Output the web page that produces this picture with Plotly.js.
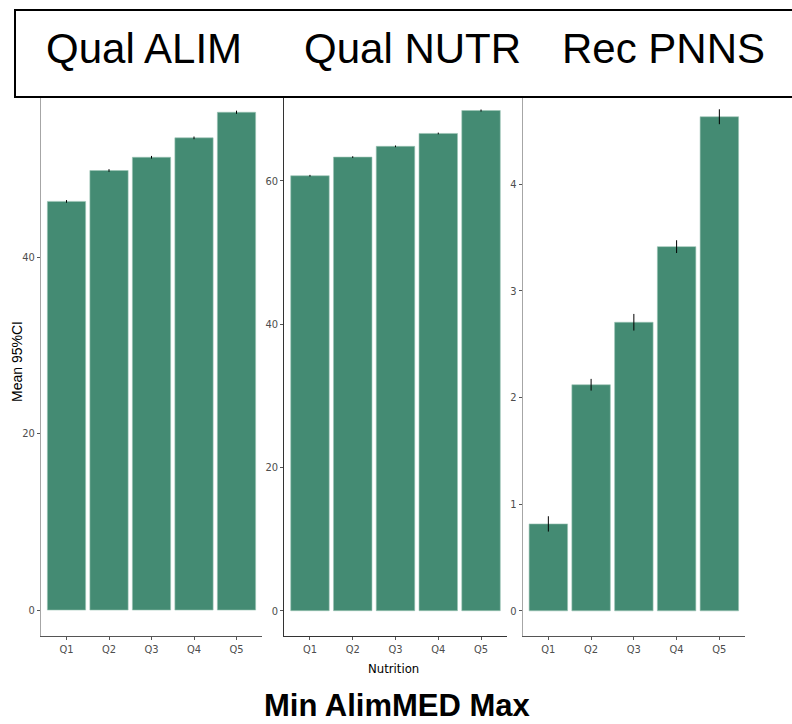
<!DOCTYPE html>
<html>
<head>
<meta charset="utf-8">
<script src="https://cdn.plot.ly/plotly-3.0.1.min.js"></script>
<style>html,body{margin:0;padding:0;background:#fff;}#chart{width:792px;height:724px;}</style>
</head>
<body>
<div id="chart"></div>
<script>
// ---- data ----
const categories = ["Q1", "Q2", "Q3", "Q4", "Q5"];
const panelTitles = ["Qual ALIM", "Qual NUTR", "Rec PNNS"];
const qualAlimMean = [46.3, 49.8, 51.3, 53.5, 56.4];
const qualAlimErr  = [0.15, 0.15, 0.15, 0.15, 0.18];
const qualNutrMean = [60.7, 63.3, 64.8, 66.6, 69.8];
const qualNutrErr  = [0.12, 0.12, 0.12, 0.12, 0.14];
const recPnnsMean  = [0.815, 2.12, 2.706, 3.415, 4.633];
const recPnnsErr   = [0.072, 0.055, 0.078, 0.06, 0.07];
const yTicks1 = [0, 20, 40];
const yTicks2 = [0, 20, 40, 60];
const yTicks3 = [0, 1, 2, 3, 4];
const yTitle = "Mean 95%CI";
const xTitle = "Nutrition";
const bottomTitle = "Min AlimMED Max";

// ---- layout helpers ----
const W = 792, H = 724;
const px = v => v / W;
const py = v => (H - v) / H;
const barColor = "#448B73";
const narrow = "'Liberation Sans Narrow', 'Arial Narrow', 'DejaVu Sans Condensed', 'Liberation Sans', Arial, sans-serif";
const tickFont = {family: narrow, size: 11, color: "#4d4d4d"};

function barTrace(vals, errs, xa, ya) {
  return {
    type: "bar", x: categories, y: vals, xaxis: xa, yaxis: ya,
    marker: {color: barColor, line: {color: "#9cc4b5", width: 0.6}},
    error_y: {type: "data", array: errs, visible: true, color: "#000", thickness: 1, width: 0},
    hoverinfo: "x+y", showlegend: false
  };
}

const data = [
  barTrace(qualAlimMean, qualAlimErr, "x", "y"),
  barTrace(qualNutrMean, qualNutrErr, "x2", "y2"),
  barTrace(recPnnsMean, recPnnsErr, "x3", "y3")
];

function xAx(d0, d1, anchor, lc) {
  return {domain: [px(d0), px(d1)], anchor: anchor, type: "category", range: [-0.6, 4.6],
    showline: true, linecolor: lc, linewidth: 1, ticks: "outside", ticklen: 3, tickcolor: "#555",
    tickfont: tickFont, showgrid: false, zeroline: false, fixedrange: true};
}
function yAx(range, tickvals, anchor, lc) {
  return {domain: [py(636), py(84)], anchor: anchor, range: range, tickvals: tickvals,
    showline: true, linecolor: lc, linewidth: 1, ticks: "outside", ticklen: 3, tickcolor: "#555",
    tickfont: tickFont, showgrid: false, zeroline: false, fixedrange: true};
}

const layout = {
  width: W, height: H,
  margin: {l: 0, r: 0, t: 0, b: 0},
  paper_bgcolor: "#fff", plot_bgcolor: "rgba(0,0,0,0)",
  bargap: 0.1,
  xaxis:  xAx(41, 262, "y", "#555"),
  yaxis:  yAx([-2.94, 59.6], yTicks1, "x", "#a6a6a6"),
  xaxis2: xAx(284.3, 506.7, "y2", "#333"),
  yaxis2: yAx([-3.53, 73.5], yTicks2, "x2", "#333"),
  xaxis3: xAx(522.7, 745, "y3", "#555"),
  yaxis3: yAx([-0.236, 4.94], yTicks3, "x3", "#a6a6a6"),
  shapes: [{
    type: "rect", xref: "paper", yref: "paper", layer: "above",
    x0: px(15), x1: px(805), y0: py(97), y1: py(10),
    fillcolor: "#fff", line: {color: "#000", width: 2}
  }],
  annotations: [
    {text: panelTitles[0], x: px(144), y: py(48)},
    {text: panelTitles[1], x: px(412.5), y: py(48)},
    {text: panelTitles[2], x: px(663), y: py(48)}
  ].map(a => Object.assign(a, {xref: "paper", yref: "paper", showarrow: false,
      xanchor: "center", yanchor: "middle",
      font: {family: "'Liberation Sans', Arial, sans-serif", size: 42, color: "#000"}}))
  .concat([
    {text: yTitle, xref: "paper", yref: "paper", x: px(17), y: py(362), textangle: -90,
     showarrow: false, xanchor: "center", yanchor: "middle",
     font: {family: "'Liberation Sans', Arial, sans-serif", size: 14, color: "#000"}},
    {text: xTitle, xref: "paper", yref: "paper", x: px(393), y: py(668),
     showarrow: false, xanchor: "center", yanchor: "middle",
     font: {family: narrow, size: 13, color: "#000"}},
    {text: "<b>" + bottomTitle + "</b>", xref: "paper", yref: "paper", x: px(397), y: 0,
     showarrow: false, xanchor: "center", yanchor: "bottom", borderpad: 0,
     font: {family: "'Liberation Sans', Arial, sans-serif", size: 31, color: "#000"}}
  ])
};

Plotly.newPlot("chart", data, layout, {displayModeBar: false, staticPlot: true});
</script>
</body>
</html>
